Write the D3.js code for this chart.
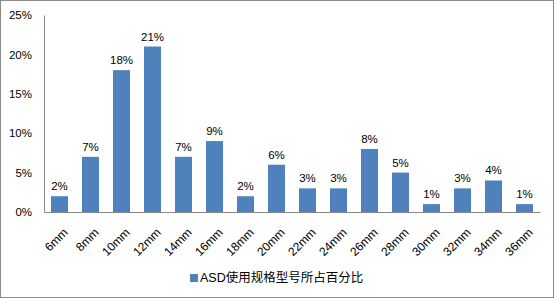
<!DOCTYPE html>
<html>
<head>
<meta charset="utf-8">
<script src="https://cdn.jsdelivr.net/npm/d3@7"></script>
<style>
  body { margin: 0; background: #fff; }
  svg { display: block; }
</style>
</head>
<body>
<div id="chart"></div>
<script>
const categories = ["6mm", "8mm", "10mm", "12mm", "14mm", "16mm", "18mm", "20mm", "22mm", "24mm", "26mm", "28mm", "30mm", "32mm", "34mm", "36mm"];
const values = [2, 7, 18, 21, 7, 9, 2, 6, 3, 3, 8, 5, 1, 3, 4, 1];
const yTicks = [0, 5, 10, 15, 20, 25];
const seriesName = "ASD使用规格型号所占百分比";

function main() {
    const width = 555, height = 299;
    const left = 44, right = 540, top = 15, bottom = 212;

    const svg = d3.select("#chart").append("svg")
        .attr("width", width)
        .attr("height", height)
        .attr("font-family", "Liberation Sans, DejaVu Sans, sans-serif");

    // outer frame
    svg.append("rect")
        .attr("x", 0.5).attr("y", 0.5)
        .attr("width", width - 2).attr("height", height - 2)
        .attr("fill", "#fff")
        .attr("stroke", "#8c8c8c");

    const x = d3.scaleBand()
        .domain(categories)
        .range([left, right])
        .paddingInner(0.45)
        .paddingOuter(0.225);

    const y = d3.scaleLinear()
        .domain([0, 25])
        .range([bottom, top]);

    // y axis
    const yAxis = svg.append("g")
        .attr("transform", `translate(${left},0)`)
        .call(d3.axisLeft(y).tickValues(yTicks).tickSize(0).tickPadding(12).tickFormat(d => d + "%"));
    yAxis.select(".domain").attr("stroke", "#868686");
    yAxis.selectAll("text").attr("font-size", 11.5).attr("fill", "#000");

    // bars
    svg.selectAll("rect.bar")
        .data(values)
        .join("rect")
        .attr("class", "bar")
        .attr("x", (d, i) => x(categories[i]))
        .attr("y", d => y(d))
        .attr("width", x.bandwidth())
        .attr("height", d => bottom - y(d))
        .attr("fill", "#4f81bd");

    // data labels
    svg.selectAll("text.lbl")
        .data(values)
        .join("text")
        .attr("class", "lbl")
        .attr("x", (d, i) => x(categories[i]) + x.bandwidth() / 2)
        .attr("y", d => y(d) - 6)
        .attr("text-anchor", "middle")
        .attr("font-size", 11.5)
        .attr("fill", "#000")
        .text(d => d + "%");

    // x axis
    const xAxis = svg.append("g")
        .attr("transform", `translate(0,${bottom})`)
        .call(d3.axisBottom(x).tickSize(0).tickSizeOuter(0));
    xAxis.select(".domain").attr("stroke", "#868686");
    xAxis.selectAll("text")
        .attr("font-size", 12)
        .attr("fill", "#000")
        .attr("text-anchor", "end")
        .attr("dy", "0.35em")
        .attr("transform", "translate(4,16) rotate(-45)");

    // legend
    const lg = svg.append("g").attr("transform", "translate(190,274)");
    lg.append("rect").attr("width", 8).attr("height", 8).attr("fill", "#4f81bd");
    lg.append("text")
        .attr("x", 10).attr("y", 7.5)
        .attr("font-size", 12.5)
        .attr("font-family", "Liberation Sans, Noto Sans CJK SC, sans-serif")
        .attr("fill", "#000")
        .text(seriesName);
}

main();
</script>
</body>
</html>
